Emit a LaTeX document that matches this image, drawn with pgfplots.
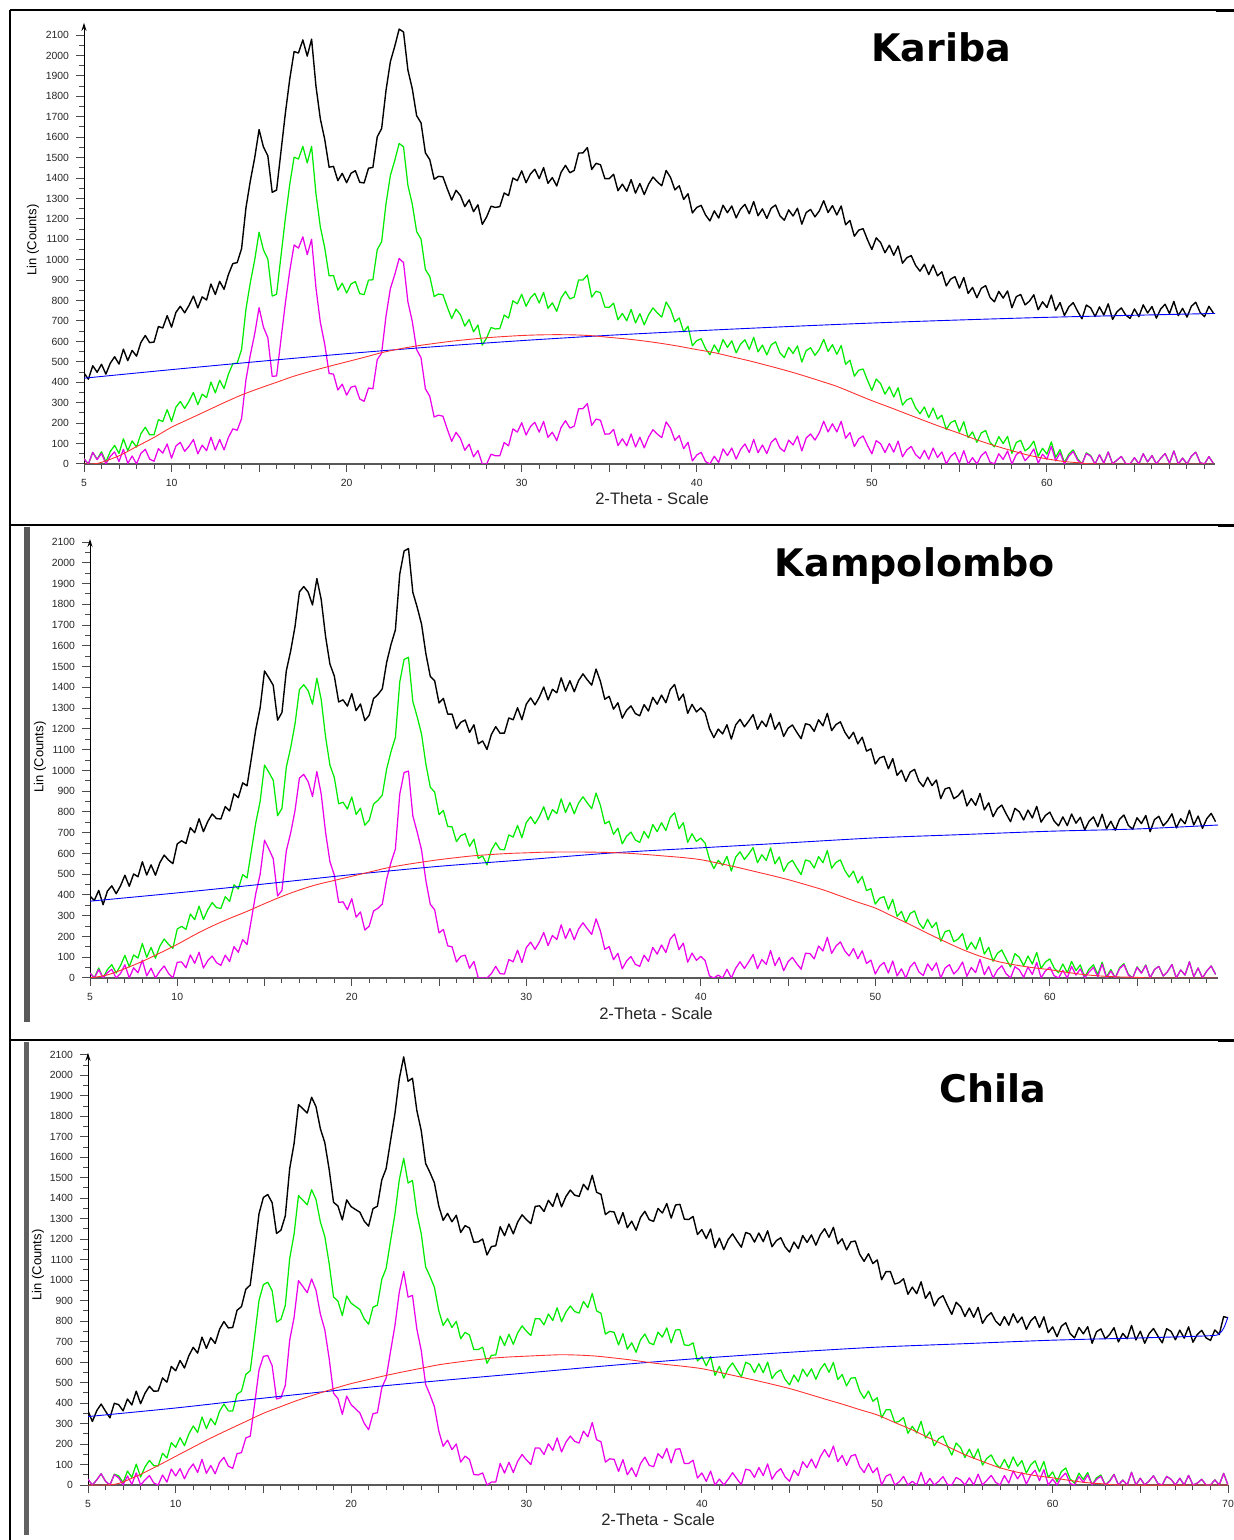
\documentclass[border=0pt]{standalone}
\usepackage{pgfplots}
\pgfplotsset{compat=1.18}
\usepackage{pgfplotstable}
\usepackage{fontspec}
\setmainfont{Liberation Sans}
\newfontfamily\titlefont{DejaVu Sans}
\usetikzlibrary{arrows.meta}
\definecolor{xgreen}{RGB}{0,235,0}
\definecolor{xmag}{RGB}{235,0,235}
\definecolor{xblue}{RGB}{0,0,255}
\definecolor{xred}{RGB}{255,50,50}

\pgfplotstableread{
x k g m
5 445 25 25
5.25 415 0 0
5.5 481 57 57
5.75 449 23 21
6 488 60 52
6.25 440 10 0
6.5 493 61 37
6.75 525 91 59
7 489 52 12
7.25 562 123 72
7.5 506 65 3
7.75 556 113 39
8 528 83 0
8.25 595 148 52
8.5 629 180 72
8.75 594 143 24
9 597 143 13
9.25 673 217 75
9.5 666 208 53
9.75 726 266 98
10 670 208 28
10.25 742 278 88
10.5 772 306 106
10.75 740 272 62
11 777 307 87
11.25 822 350 120
11.5 764 290 50
11.75 818 342 92
12 803 325 65
12.25 881 401 131
12.5 830 348 68
12.75 894 410 120
13 855 369 69
13.25 928 440 130
13.5 981 491 172
13.75 986 494 165
14 1054 560 222
14.25 1254 758 412
14.5 1386 888 534
14.75 1499 999 637
15 1637 1135 765
15.25 1552 1048 670
15.5 1509 1003 618
15.75 1330 822 429
16 1341 831 431
16.25 1529 1017 609
16.5 1716 1202 787
16.75 1883 1368 945
17 2019 1502 1072
17.25 2012 1493 1057
17.5 2076 1555 1112
17.75 1997 1474 1025
18 2080 1555 1100
18.25 1849 1322 861
18.5 1689 1160 693
18.75 1589 1058 586
19 1453 921 443
19.25 1457 923 440
19.5 1387 851 362
19.75 1423 885 391
20 1377 837 337
20.25 1423 881 376
20.5 1436 893 382
20.75 1379 834 318
21 1376 829 307
21.25 1448 900 372
21.5 1452 902 368
21.75 1602 1050 511
22 1642 1088 543
22.25 1829 1274 724
22.5 1970 1413 859
22.75 2045 1486 927
23 2129 1569 1006
23.25 2115 1553 986
23.5 1929 1365 794
23.75 1837 1272 698
24 1705 1138 560
24.25 1670 1101 520
24.5 1523 952 368
24.75 1490 918 331
25 1394 820 230
25.25 1408 832 239
25.5 1406 829 234
25.75 1347 768 170
26 1292 712 111
26.25 1340 758 155
26.5 1314 731 125
26.75 1260 675 67
27 1293 707 97
27.25 1235 647 35
27.5 1269 680 66
27.75 1173 582 0
28 1210 618 0
28.25 1262 668 48
28.5 1256 661 40
28.75 1260 663 40
29 1327 729 105
29.25 1314 714 89
29.5 1400 799 172
29.75 1387 784 156
30 1435 831 202
30.25 1377 772 142
30.5 1420 813 183
30.75 1443 835 204
31 1397 788 156
31.25 1451 840 208
31.5 1374 762 130
31.75 1402 789 156
32 1361 747 114
32.25 1428 812 179
32.5 1462 845 212
32.75 1426 808 176
33 1437 817 185
33.25 1522 901 270
33.5 1523 901 271
33.75 1549 925 296
34 1442 817 189
34.25 1472 846 220
34.5 1465 838 214
34.75 1397 768 146
35 1397 767 147
35.25 1418 787 169
35.5 1338 706 90
35.75 1370 737 123
36 1335 701 89
36.25 1392 757 147
36.5 1326 690 83
36.75 1373 736 131
37 1319 681 79
37.25 1370 731 132
37.5 1405 764 168
37.75 1381 739 146
38 1362 719 129
38.25 1437 793 206
38.5 1403 758 175
38.75 1342 696 116
39 1362 715 139
39.25 1295 647 75
39.5 1323 674 106
39.75 1229 579 15
40 1256 604 44
40.25 1266 613 57
40.5 1219 565 12
40.75 1190 535 0
41 1239 583 38
41.25 1204 547 7
41.5 1267 609 74
41.75 1230 571 41
42 1263 603 78
42.25 1205 544 24
42.5 1248 586 71
42.75 1271 608 98
43 1225 561 56
43.25 1285 620 120
43.5 1215 549 55
43.75 1249 582 93
44 1202 534 51
44.25 1252 583 106
44.5 1268 598 126
44.75 1215 544 78
45 1193 521 61
45.25 1244 571 117
45.5 1214 541 93
45.75 1252 578 137
46 1174 499 64
46.25 1231 555 127
46.5 1246 569 147
46.75 1210 532 117
47 1239 561 153
47.25 1289 610 209
47.5 1231 551 157
47.75 1265 584 197
48 1219 537 157
48.25 1263 580 209
48.5 1171 488 126
48.75 1192 508 154
49 1115 430 85
49.25 1145 459 123
49.5 1152 465 137
49.75 1098 410 91
50 1050 360 50
50.25 1107 416 114
50.5 1084 393 99
50.75 1034 342 56
51 1071 378 100
51.25 1022 328 58
51.5 1067 373 112
51.75 983 288 35
52 1010 314 69
52.25 1020 323 86
52.5 972 275 46
52.75 944 246 26
53 978 279 67
53.25 927 227 23
53.5 974 274 78
53.75 921 220 32
54 941 239 59
54.25 872 169 0
54.5 905 202 37
54.75 917 213 56
55 861 156 6
55.25 913 207 65
55.5 835 129 0
55.75 864 157 31
56 814 106 0
56.25 860 152 41
56.5 873 164 60
56.75 816 106 9
57 794 84 0
57.25 845 134 50
57.5 812 100 22
57.75 847 135 64
58 765 52 0
58.25 819 105 46
58.5 830 116 62
58.75 779 64 16
59 797 81 39
59.25 828 112 74
59.5 755 38 4
59.75 794 77 48
60 766 48 23
60.25 827 108 86
60.5 752 33 15
60.75 790 70 55
61 727 7 0
61.25 769 48 38
61.5 790 69 61
61.75 748 26 19
62 711 0 0
62.25 778 55 51
62.5 764 41 38
62.75 722 0 0
63 769 45 45
63.25 729 4 4
63.5 784 59 59
63.75 708 0 0
64 745 19 19
64.25 764 37 37
64.5 729 2 2
64.75 713 0 0
65 759 31 31
65.25 721 0 0
65.5 779 50 50
65.75 739 10 10
66 771 41 41
66.25 714 0 0
66.5 759 28 28
66.75 782 51 51
67 736 4 4
67.25 796 64 64
67.5 726 0 0
67.75 762 29 29
68 719 0 0
68.25 772 38 38
68.5 792 58 58
68.75 742 7 7
69 721 0 0
69.25 772 36 36
69.5 740 4 4
}\tabA

\pgfplotstableread{
x k g m
5 394 24 24
5.25 374 2 0
5.5 422 48 40
5.75 353 0 0
6 419 41 26
6.25 444 64 42
6.5 406 24 0
6.75 444 60 22
7 495 109 64
7.25 442 54 0
7.5 501 111 49
7.75 488 96 25
8 560 166 86
8.25 496 100 10
8.5 545 147 47
8.75 495 95 0
9 555 153 33
9.25 592 188 58
9.5 568 162 22
9.75 551 143 0
10 646 236 76
10.25 661 249 77
10.5 648 234 49
10.75 724 308 111
11 700 281 71
11.25 767 346 124
11.5 705 282 48
11.75 754 329 84
12 790 363 106
12.25 768 339 74
12.5 766 335 61
12.75 826 392 110
13 805 369 79
13.25 887 449 151
13.5 869 429 124
13.75 940 498 185
14 926 482 161
14.25 1060 614 283
14.5 1197 748 407
14.75 1302 851 499
15 1479 1026 664
15.25 1446 991 621
15.5 1410 953 575
15.75 1242 782 395
16 1279 817 422
16.25 1480 1016 613
16.5 1576 1110 699
16.75 1694 1225 807
17 1860 1389 963
17.25 1886 1413 981
17.5 1859 1384 946
17.75 1797 1319 875
18 1924 1444 994
18.25 1823 1341 886
18.5 1645 1161 701
18.75 1512 1025 560
19 1455 966 496
19.25 1330 839 364
19.5 1340 847 367
19.75 1310 814 329
20 1370 872 382
20.25 1288 788 293
20.5 1320 818 318
20.75 1240 736 231
21 1266 760 250
21.25 1346 838 323
21.5 1366 856 336
21.75 1393 881 356
22 1521 1007 477
22.25 1607 1091 557
22.5 1677 1159 621
22.75 1946 1426 885
23 2057 1535 990
23.25 2069 1545 997
23.5 1858 1332 781
23.75 1786 1258 703
24 1704 1174 616
24.25 1561 1029 468
24.5 1453 919 355
24.75 1432 896 329
25 1325 787 217
25.25 1347 807 234
25.5 1271 730 155
25.75 1271 728 150
26 1201 657 77
26.25 1232 686 104
26.5 1243 695 110
26.75 1183 634 47
27 1220 669 80
27.25 1128 576 0
27.5 1142 588 0
27.75 1101 545 0
28 1173 616 21
28.25 1211 652 56
28.5 1179 619 21
28.75 1180 618 19
29 1253 689 89
29.25 1244 679 78
29.5 1302 735 134
29.75 1244 676 74
30 1319 749 146
30.25 1349 777 173
30.5 1316 743 138
30.75 1353 778 173
31 1402 825 219
31.25 1340 762 156
31.5 1391 811 205
31.75 1374 792 185
32 1446 863 256
32.25 1382 797 190
32.5 1432 845 238
32.75 1379 791 184
33 1433 843 236
33.25 1465 873 266
33.5 1436 843 237
33.75 1411 816 210
34 1488 891 285
34.25 1429 831 226
34.5 1343 743 138
34.75 1357 755 151
35 1295 692 88
35.25 1326 722 119
35.5 1252 646 44
35.75 1290 683 82
36 1311 703 103
36.25 1274 665 66
36.5 1263 653 56
36.75 1317 706 110
37 1286 674 80
37.25 1352 739 147
37.5 1319 705 115
37.75 1363 748 159
38 1326 710 123
38.25 1390 773 188
38.5 1414 796 212
38.75 1338 719 137
39 1368 748 168
39.25 1275 654 76
39.5 1318 695 120
39.75 1282 658 85
40 1301 674 104
40.25 1277 649 83
40.5 1201 572 10
40.75 1158 527 0
41 1199 567 14
41.25 1176 543 0
41.5 1220 586 42
41.75 1151 515 0
42 1219 582 47
42.25 1246 608 78
42.5 1210 571 46
42.75 1238 598 78
43 1269 628 113
43.25 1198 555 45
43.5 1238 594 89
43.75 1211 566 66
44 1273 627 132
44.25 1198 550 60
44.5 1232 583 99
44.75 1164 514 35
45 1203 552 78
45.25 1219 567 99
45.5 1184 531 69
45.75 1153 498 42
46 1225 569 119
46.25 1219 562 118
46.5 1188 530 92
46.75 1244 585 154
47 1215 555 130
47.25 1275 614 196
47.5 1192 529 119
47.75 1221 557 154
48 1234 569 174
48.25 1185 519 131
48.5 1153 486 106
48.75 1184 515 142
49 1128 458 93
49.25 1160 489 131
49.5 1093 421 70
49.75 1104 430 86
50 1031 356 19
50.25 1060 384 57
50.5 1068 392 75
50.75 1008 331 24
51 1057 379 82
51.25 976 297 10
51.5 1001 321 44
51.75 947 267 0
52 992 311 54
52.25 1005 323 76
52.5 948 265 29
52.75 922 238 12
53 967 283 68
53.25 927 242 37
53.5 954 268 73
53.75 864 177 0
54 911 223 48
54.25 918 230 64
54.5 864 175 19
54.75 878 188 41
55 905 214 77
55.25 829 137 8
55.5 864 172 51
55.75 832 139 26
56 889 195 90
56.25 810 115 16
56.5 844 148 55
56.75 777 81 0
57 816 119 39
57.25 833 135 59
57.5 791 92 20
57.75 753 53 0
58 817 117 54
58.25 801 100 40
58.5 761 59 3
58.75 809 106 53
59 771 67 17
59.25 827 123 75
59.5 751 46 1
59.75 783 77 34
60 799 92 52
60.25 756 48 11
60.5 733 25 0
60.75 776 67 37
61 734 25 0
61.25 790 80 56
61.5 746 36 14
61.75 774 63 44
62 714 3 0
62.25 755 43 29
62.5 776 64 51
62.75 729 16 5
63 789 76 67
63.25 719 5 0
63.5 755 41 34
63.75 712 0 0
64 765 50 45
64.25 785 69 64
64.5 735 18 14
64.75 717 0 0
65 772 54 51
65.25 744 25 23
65.5 783 63 61
65.75 705 0 0
66 763 41 41
66.25 779 56 56
66.5 733 9 9
66.75 756 31 31
67 791 65 65
67.25 723 0 0
67.5 767 39 39
67.75 743 14 14
68 808 78 78
68.25 737 6 6
68.5 780 48 48
68.75 721 0 0
69 768 34 34
69.25 793 58 58
69.5 753 17 17
}\tabB

\pgfplotstableread{
x k g m
5 362 28 28
5.25 310 0 0
5.5 363 25 25
5.75 395 55 55
6 360 18 18
6.25 328 0 0
6.5 399 53 50
6.75 392 44 35
7 362 12 0
7.25 420 68 44
7.5 391 37 3
7.75 458 102 59
8 397 39 0
8.25 448 88 25
8.5 482 120 46
8.75 458 94 10
9 459 93 0
9.25 523 155 49
9.5 502 132 14
9.75 579 207 78
10 558 184 44
10.25 608 231 80
10.5 571 192 30
10.75 631 249 75
11 672 288 103
11.25 644 257 61
11.5 722 332 125
11.75 667 275 57
12 719 324 95
12.25 691 294 55
12.5 760 360 110
12.75 798 395 135
13 767 362 92
13.25 769 361 81
13.5 853 443 153
13.75 871 458 158
14 956 540 230
14.25 976 558 238
14.5 1145 724 394
14.75 1324 901 561
15 1404 978 628
15.25 1418 990 632
15.5 1378 948 582
15.75 1228 795 420
16 1244 809 426
16.25 1314 877 486
16.5 1545 1106 707
16.75 1667 1225 818
17 1857 1413 998
17.25 1837 1391 969
17.5 1816 1368 939
17.75 1893 1442 1006
18 1847 1394 951
18.25 1739 1284 834
18.5 1672 1214 758
18.75 1541 1081 618
19 1380 918 448
19.25 1362 898 422
19.5 1294 827 345
19.75 1392 923 434
20 1359 888 393
20.25 1345 872 372
20.5 1332 857 352
20.75 1288 811 301
21 1264 785 270
21.25 1349 868 348
21.5 1361 878 353
21.75 1489 1004 474
22 1545 1058 523
22.25 1681 1192 652
22.5 1813 1322 778
22.75 1984 1491 942
23 2090 1595 1042
23.25 1971 1474 917
23.5 1986 1487 926
23.75 1828 1327 761
24 1730 1227 657
24.25 1570 1065 491
24.5 1525 1018 440
24.75 1475 966 383
25 1362 851 264
25.25 1292 779 189
25.5 1326 812 219
25.75 1285 769 173
26 1317 799 200
26.25 1233 714 112
26.5 1266 745 141
26.75 1255 732 125
27 1185 661 51
27.25 1187 661 49
27.5 1201 673 59
27.75 1123 594 0
28 1164 633 14
28.25 1168 635 15
28.5 1261 727 105
28.75 1217 681 58
29 1274 736 111
29.25 1226 687 61
29.5 1284 743 116
29.75 1319 777 149
30 1295 751 122
30.25 1276 730 100
30.5 1360 812 181
30.75 1363 812 180
31 1335 782 149
31.25 1390 835 201
31.5 1360 803 169
31.75 1424 865 230
32 1358 797 161
32.25 1408 844 209
32.5 1440 874 239
32.75 1415 847 213
33 1409 839 205
33.25 1468 896 263
33.5 1441 866 235
33.75 1512 935 305
34 1429 850 221
34.25 1419 838 211
34.5 1320 737 112
34.75 1336 750 128
35 1333 745 125
35.25 1274 684 66
35.5 1330 739 124
35.75 1256 663 50
36 1288 694 84
36.25 1244 648 41
36.5 1306 708 104
36.75 1336 737 136
37 1295 694 96
37.25 1287 685 89
37.5 1350 746 153
37.75 1328 722 131
38 1374 767 179
38.25 1303 694 108
38.5 1367 757 174
38.75 1370 758 177
39 1298 684 105
39.25 1296 681 105
39.5 1311 694 121
39.75 1223 605 34
40 1247 627 59
40.25 1203 582 18
40.5 1250 627 68
40.75 1159 535 0
41 1205 579 29
41.25 1149 522 0
41.5 1198 569 28
41.75 1226 596 60
42 1192 561 30
42.25 1161 528 2
42.5 1233 599 77
42.75 1225 589 72
43 1186 549 37
43.25 1230 592 85
43.5 1188 548 46
43.75 1241 600 103
44 1163 520 28
44.25 1193 549 62
44.5 1207 562 80
44.75 1162 515 39
45 1137 489 18
45.25 1186 537 72
45.5 1154 504 46
45.75 1218 566 114
46 1184 531 85
46.25 1221 567 127
46.5 1171 516 83
46.75 1221 564 137
47 1251 593 173
47.25 1209 550 136
47.5 1258 598 190
47.75 1177 515 114
48 1202 539 144
48.25 1148 484 96
48.5 1187 522 141
48.75 1191 524 149
49 1126 458 90
49.25 1092 423 61
49.5 1129 459 104
49.75 1081 409 60
50 1099 426 84
50.25 1002 328 0
50.5 1042 367 43
50.75 1042 367 53
51 981 305 0
51.25 988 311 15
51.5 1007 329 42
51.75 931 252 0
52 966 287 18
52.25 934 254 0
52.5 992 311 62
52.75 911 229 0
53 943 260 32
53.25 874 191 0
53.5 910 226 18
53.75 924 239 41
54 877 191 3
54.25 833 146 0
54.5 892 205 37
54.75 871 183 25
55 823 134 0
55.25 864 175 35
55.5 819 129 0
55.75 867 176 53
56 789 97 0
56.25 823 130 23
56.5 841 147 47
56.75 800 105 13
57 779 83 0
57.25 822 125 46
57.5 780 82 9
57.75 836 137 69
58 792 92 30
58.25 820 119 61
58.5 760 58 4
58.75 801 98 48
59 822 118 72
59.25 769 64 21
59.5 821 115 75
59.75 744 37 0
60 772 64 29
60.25 724 16 0
60.5 775 66 38
60.75 792 83 58
61 739 29 7
61.25 718 8 0
61.5 769 58 41
61.75 738 27 13
62 773 61 50
62.25 692 0 0
62.5 748 35 27
62.75 762 49 43
63 714 0 0
63.25 735 21 17
63.5 768 53 51
63.75 698 0 0
64 740 24 24
64.25 714 0 0
64.5 779 62 62
64.75 708 0 0
65 751 33 33
65.25 692 0 0
65.5 739 20 20
65.75 764 45 45
66 727 7 7
66.25 694 0 0
66.5 763 42 42
66.75 750 28 28
67 709 0 0
67.25 756 33 33
67.5 717 0 0
67.75 772 47 47
68 697 0 0
68.25 735 9 9
68.5 755 28 28
68.75 718 0 0
69 706 0 0
69.25 757 25 25
69.5 735 0 0
69.75 822 57 57
70 816 0 0
}\tabC

\pgfplotsset{xrd/.style={
  scale only axis, anchor=south west,
  xmin=5, ymin=0,
  axis x line=bottom, axis y line=left,
  x axis line style={-, black!65, line width=0.7pt},
  y axis line style={-{Stealth[length=4pt,width=2.5pt]}, black, line width=0.5pt},
  tick align=outside,
  major tick length=4pt, minor tick length=2.5pt,
  tick style={black!70, line width=0.5pt},
  xtick={5,10,...,70},
  xticklabels={5,10,,20,,30,,40,,50,,60,,70},
  minor x tick num=4,
  ytick={0,100,...,2100},
  minor y tick num=1,
  tick label style={font=\fontsize{5.2}{6}\selectfont, text=black!85},
  /pgf/number format/assume math mode=true,
  /pgf/number format/1000 sep={},
  every axis plot/.append style={line join=round},
}}
\tikzset{
  kline/.style={black, line width=0.7pt},
  gline/.style={xgreen, line width=0.62pt},
  mline/.style={xmag, line width=0.62pt},
  bline/.style={xblue, line width=0.45pt, smooth},
  rline/.style={xred, line width=0.45pt, smooth},
}

\begin{document}
\begin{tikzpicture}
\path[use as bounding box] (0,0) rectangle (617pt,770pt);

% frames
\draw[line width=1pt] (5pt,765pt) -- (5pt,0pt);
\draw[line width=0.6pt] (5pt,765pt) -- (617pt,765pt);
\draw[line width=0.9pt] (5pt,507.5pt) -- (617pt,507.5pt);
\draw[line width=0.9pt] (5pt,250pt) -- (617pt,250pt);
\fill (608pt,764pt) rectangle (617pt,765.6pt);
\fill (609pt,506.5pt) rectangle (617pt,508.2pt);
\fill (609pt,249pt) rectangle (617pt,250.7pt);
\fill[black!65] (12pt,259pt) rectangle (15pt,506.5pt);
\fill[black!62] (12pt,2.5pt) rectangle (14.3pt,249pt);

% Panel 1 - Kariba
\begin{axis}[xrd, at={(42pt,538pt)}, width=565.5pt, height=220.6pt, xmax=69.6, ymax=2160]
\addplot[kline] table[x=x,y=k] {\tabA};
\addplot[gline] table[x=x,y=g] {\tabA};
\addplot[mline] table[x=x,y=m] {\tabA};
\addplot[bline] coordinates {(5,420)(10,462)(15,502)(20,540)(25,574)(30,604)(35,630)(40,652)(45,672)(50,690)(55,705)(60,718)(65,728)(69.6,737)};
\addplot[rline] coordinates {(5,0)(5.5,0)(6,8)(7,40)(8,85)(9,130)(10,180)(11,220)(12,260)(13,300)(14,338)(15,370)(16,400)(17,430)(18,455)(19,478)(20,500)(21,522)(22,545)(23,563)(24,578)(25,590)(26,601)(27,610)(28,618)(29,624)(30,629)(31,632)(32,633)(33,632)(34,628)(35,620)(36,612)(37,602)(38,590)(39,576)(40,560)(41,545)(42,525)(43,505)(44,483)(45,460)(46,435)(47,408)(48,380)(49,345)(50,310)(51,278)(52,245)(53,212)(54,180)(55,150)(56,118)(57,90)(58,65)(59,42)(60,25)(61,12)(62,5)(63,0)(69.5,0)};
\end{axis}

% Panel 2 - Kampolombo
\begin{axis}[xrd, at={(45pt,281pt)}, width=564pt, height=219.5pt, xmax=69.64, ymax=2115]
\addplot[kline] table[x=x,y=k] {\tabB};
\addplot[gline] table[x=x,y=g] {\tabB};
\addplot[mline] table[x=x,y=m] {\tabB};
\addplot[bline] coordinates {(5,370)(10,410)(15,453)(20,498)(25,538)(30,570)(35,603)(40,627)(45,651)(50,675)(55,691)(60,707)(65,718)(69.64,737)};
\addplot[rline] coordinates {(5,0)(6,15)(7,45)(8,80)(9,120)(10,162)(11,208)(12,250)(13,287)(14,321)(15,358)(16,393)(17,424)(18,450)(19,470)(20,490)(21,510)(22,530)(23,545)(24,558)(25,570)(26,580)(27,589)(28,595)(29,600)(30,603)(31,606)(32,607)(33,607)(34,606)(35,604)(36,600)(37,594)(38,587)(39,580)(40,570)(41,553)(42,535)(43,515)(44,495)(45,474)(46,450)(47,425)(48,395)(49,365)(50,337)(51,297)(52,257)(53,215)(54,175)(55,137)(56,105)(57,80)(58,63)(59,50)(60,40)(61,27)(62,16)(63,9)(64,5)(65,3)(66,0)(69.6,0)};
\end{axis}

% Panel 3 - Chila
\begin{axis}[xrd, at={(44pt,27.5pt)}, width=570pt, height=216.1pt, xmax=70, ymax=2110]
\addplot[kline] table[x=x,y=k] {\tabC};
\addplot[gline] table[x=x,y=g] {\tabC};
\addplot[mline] table[x=x,y=m] {\tabC};
\addplot[bline] coordinates {(5,334)(10,376)(15,424)(20,469)(25,509)(30,547)(35,585)(40,619)(45,648)(50,673)(55,690)(60,707)(65,718)(69,729)(69.5,740)(69.75,765)(70,820)};
\addplot[rline] coordinates {(5,0)(6,0)(6.5,3)(7,15)(8,52)(9,95)(10,140)(11,185)(12,229)(13,270)(14,310)(15,350)(16,383)(17,415)(18,443)(19,470)(20,495)(21,515)(22,535)(23,553)(24,570)(25,587)(26,599)(27,610)(28,619)(29,625)(30,629)(31,633)(32,636)(33,634)(34,629)(35,620)(36,610)(37,598)(38,588)(39,579)(40,568)(41,550)(42,531)(43,512)(44,492)(45,471)(46,446)(47,420)(48,395)(49,368)(50,342)(51,305)(52,269)(53,228)(54,188)(55,148)(56,115)(57,84)(58,62)(59,46)(60,35)(61,22)(62,11)(63,5)(64,0)(70,0)};
\end{axis}

% titles
\node[font=\titlefont\bfseries\fontsize{19}{22}\selectfont, anchor=base] at (470.5pt,739pt) {Kariba};
\node[font=\titlefont\bfseries\fontsize{19}{22}\selectfont, anchor=base] at (457.5pt,481.5pt) {Kampolombo};
\node[font=\titlefont\bfseries\fontsize{19}{22}\selectfont, anchor=base] at (496.5pt,218.5pt) {Chila};

% axis labels
\node[font=\fontsize{8.3}{10}\selectfont, text=black!85, anchor=base] at (326pt,517.5pt) {2-Theta - Scale};
\node[font=\fontsize{8.3}{10}\selectfont, text=black!85, anchor=base] at (328pt,260pt) {2-Theta - Scale};
\node[font=\fontsize{8.3}{10}\selectfont, text=black!85, anchor=base] at (329pt,7pt) {2-Theta - Scale};
\node[font=\fontsize{6.5}{8}\selectfont, rotate=90] at (16.5pt,650pt) {Lin (Counts)};
\node[font=\fontsize{6.5}{8}\selectfont, rotate=90] at (20pt,391.5pt) {Lin (Counts)};
\node[font=\fontsize{6.5}{8}\selectfont, rotate=90] at (19pt,137.5pt) {Lin (Counts)};
\end{tikzpicture}
\end{document}
